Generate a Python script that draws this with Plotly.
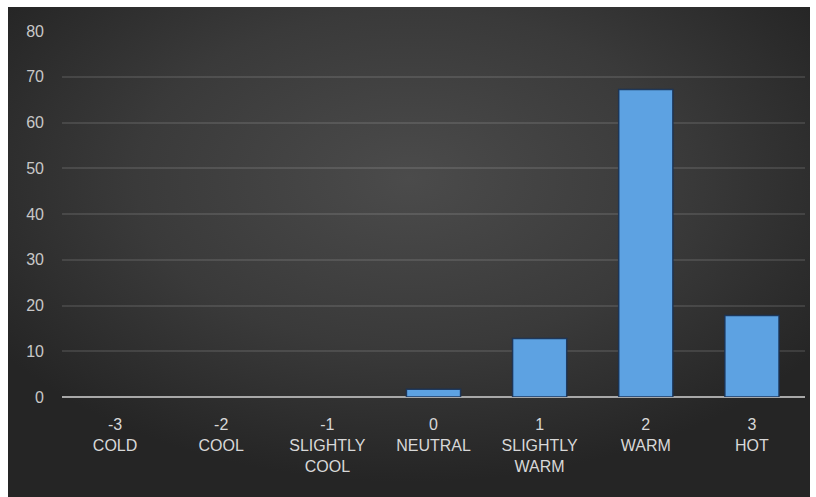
import base64
import plotly.graph_objects as go

codes = ["-3", "-2", "-1", "0", "1", "2", "3"]
names = ["COLD", "COOL", "SLIGHTLY<br>COOL", "NEUTRAL", "SLIGHTLY<br>WARM", "WARM", "HOT"]
values = [0, 0, 0, 1.7, 12.8, 67.2, 17.8]
y_ticks = [0, 10, 20, 30, 40, 50, 60, 70, 80]

tick_text = [f"{c}<br>{n}" for c, n in zip(codes, names)]

W, H = 816, 497
ml, mr, mt, mb = 62, 11, 31, 100
pw, ph = W - ml - mr, H - mt - mb

svg = (
    '<svg xmlns="http://www.w3.org/2000/svg" width="802" height="490" preserveAspectRatio="none">'
    '<defs><radialGradient id="g" cx="0.5" cy="0.35" r="0.62" gradientUnits="objectBoundingBox">'
    '<stop offset="0" stop-color="#4b4b4b"/><stop offset="0.55" stop-color="#3a3a3a"/>'
    '<stop offset="1" stop-color="#252525"/></radialGradient></defs>'
    '<rect width="802" height="490" fill="url(#g)"/></svg>'
)
src = "data:image/svg+xml;base64," + base64.b64encode(svg.encode()).decode()

fig = go.Figure()
fig.add_trace(go.Bar(
    x=codes, y=values,
    marker=dict(
        color="#5da2e2",
        line=dict(color="rgba(25,50,85,0.9)", width=[0 if v == 0 else 1.5 for v in values]),
    ),
    width=0.51,
))

left_px, right_px, top_px, bot_px = 8, 810, 7, 497
fig.add_layout_image(dict(
    source=src, xref="paper", yref="paper",
    x=(left_px - ml) / pw, y=(H - mb - top_px) / ph,
    sizex=(right_px - left_px) / pw, sizey=(bot_px - top_px) / ph,
    sizing="stretch", layer="below", xanchor="left", yanchor="top",
))

fig.update_layout(
    width=W, height=H,
    margin=dict(l=ml, r=mr, t=mt, b=mb),
    paper_bgcolor="white",
    plot_bgcolor="rgba(0,0,0,0)",
    showlegend=False,
    font=dict(family="Liberation Sans, Arial, sans-serif", size=16, color="#d4d4d4"),
    xaxis=dict(
        type="category", tickmode="array", tickvals=codes, ticktext=tick_text,
        showgrid=False, showline=False, ticks="", ticklabelstandoff=16,
        tickfont=dict(size=16, color="#d8d8d8"),
    ),
    yaxis=dict(
        range=[0, 80], tickmode="array", tickvals=y_ticks,
        showgrid=True, gridcolor="rgba(255,255,255,0.11)", gridwidth=1.5,
        zeroline=True, zerolinecolor="#a8a8a8", zerolinewidth=2,
        showline=False, ticks="", ticklabelstandoff=17,
        tickfont=dict(size=16, color="#c8c8c8"),
    ),
)

fig.write_html("out.html")
